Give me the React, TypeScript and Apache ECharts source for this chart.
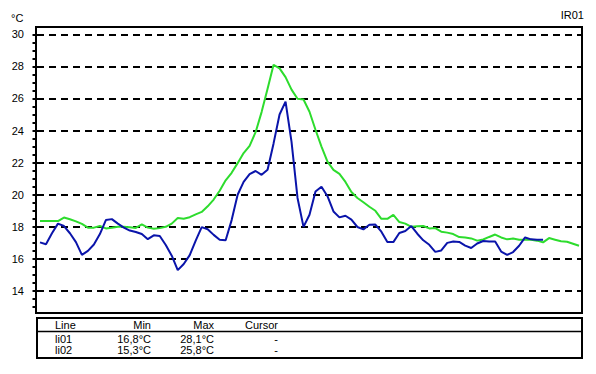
import React, { useEffect, useRef } from "react";
import * as echarts from "echarts";

// li01 (green) and li02 (blue) temperature samples, °C
const li01 = [
  18.36, 18.36, 18.36, 18.36, 18.58, 18.47, 18.34, 18.18, 17.95, 17.95,
  18.05, 17.9, 17.94, 18.0, 18.0, 17.98, 17.93, 18.15, 17.95, 17.88,
  17.92, 18.0, 18.2, 18.55, 18.5, 18.6, 18.78, 18.93, 19.28, 19.7,
  20.25, 20.9, 21.37, 21.97, 22.6, 23.05, 23.9, 25.15, 26.6, 28.1,
  27.88, 27.33, 26.55, 25.98, 25.94, 25.17, 24.05, 23.0, 22.06, 21.55,
  21.3, 20.8, 20.17, 19.8, 19.53, 19.25, 19.0, 18.5, 18.5, 18.75,
  18.3, 18.2, 18.0, 18.03, 18.05, 17.9, 17.92, 17.7, 17.64, 17.55,
  17.36, 17.34, 17.28, 17.14, 17.21, 17.37, 17.52, 17.34, 17.22, 17.27,
  17.2, 17.2, 17.19, 17.14, 17.03, 17.3, 17.2, 17.1, 17.07, 16.95,
  16.82,
];
const li02 = [
  17.03, 16.92, 17.6, 18.2, 18.05, 17.6, 17.05, 16.25, 16.5, 16.9,
  17.55, 18.42, 18.48, 18.2, 17.95, 17.77, 17.68, 17.55, 17.23, 17.47,
  17.43, 16.87, 16.2, 15.3, 15.68, 16.24, 17.14, 17.98, 17.85, 17.5,
  17.2, 17.16, 18.42, 20.0, 20.8, 21.28, 21.48, 21.24, 21.56, 23.2,
  25.0, 25.8, 23.3, 19.8, 18.0, 18.75, 20.2, 20.5, 19.91, 18.96,
  18.59, 18.69, 18.45, 17.99, 17.84, 18.13, 18.14, 17.7, 17.05, 17.05,
  17.62, 17.74, 18.05, 17.57, 17.16, 16.88, 16.44, 16.53, 17.0, 17.08,
  17.06, 16.83, 16.68, 16.96, 17.12, 17.08, 17.08, 16.46, 16.25, 16.43,
  16.82, 17.34, 17.22, 17.2, 17.2,
];

const majorTicks = [14, 16, 18, 20, 22, 24, 26, 28, 30];
const minorTicks = [
  13, 13.5, 14, 14.5, 15, 15.5, 16, 16.5, 17, 17.5, 18, 18.5, 19, 19.5,
  20, 20.5, 21, 21.5, 22, 22.5, 23, 23.5, 24, 24.5, 25, 25.5, 26, 26.5,
  27, 27.5, 28, 28.5, 29, 29.5, 30,
];
const tableHeader = ["Line", "Min", "Max", "Cursor"];
const tableRows = [
  ["li01", "16,8°C", "28,1°C", "-"],
  ["li02", "15,3°C", "25,8°C", "-"],
];
const unitLabel = "°C";
const chartName = "IR01";

const FONT = "'Liberation Sans', Arial, sans-serif";

export default function App() {
  const ref = useRef<HTMLDivElement>(null);
  useEffect(() => {
    const chart = echarts.init(ref.current!, null, { renderer: "svg" });

    const colX = [55, 151, 214, 278];
    const colAlign = ["left", "right", "right", "right"];
    const tableTexts: any[] = [];
    const txtStyle = (t: string, c: number) => ({
      text: t,
      fill: "#000",
      fontSize: 11,
      lineHeight: 10,
      fontFamily: FONT,
      textAlign: colAlign[c],
      textVerticalAlign: "middle",
    });
    tableHeader.forEach((t, c) => {
      tableTexts.push({ type: "text", x: colX[c], y: 325, style: txtStyle(t, c) });
    });
    tableRows.forEach((row, r) => {
      row.forEach((t, c) => {
        tableTexts.push({ type: "text", x: colX[c], y: 339 + r * 11, style: txtStyle(t, c) });
      });
    });

    chart.setOption({
      animation: false,
      backgroundColor: "#fff",
      grid: {
        left: 36,
        top: 27,
        width: 546,
        height: 286,
        show: true,
        borderColor: "#000",
        borderWidth: 2,
        backgroundColor: "transparent",
      },
      xAxis: {
        type: "value",
        min: -0.668,
        max: 90.5,
        show: false,
      },
      yAxis: [
        {
          type: "value",
          min: 12.63,
          max: 30.455,
          position: "left",
          axisLine: { show: false },
          axisTick: {
            show: true,
            customValues: majorTicks,
            length: 6,
            lineStyle: { color: "#000", width: 2 },
          },
          axisLabel: {
            customValues: majorTicks,
            margin: 12,
            fontSize: 11,
            fontFamily: FONT,
            color: "#000",
          },
          splitLine: {
            show: true,
            lineStyle: { color: "#000", width: 2, type: [7, 5], dashOffset: -1 },
          },
        },
        {
          type: "value",
          min: 12.63,
          max: 30.455,
          position: "left",
          axisLine: { show: false },
          axisTick: {
            show: true,
            customValues: minorTicks,
            length: 3.5,
            lineStyle: { color: "#000", width: 2 },
          },
          axisLabel: { show: false },
          splitLine: { show: false },
        },
      ],
      series: [
        {
          name: "li01",
          type: "line",
          data: li01.map((v, i) => [i, v]),
          showSymbol: false,
          lineStyle: { color: "#2ddc2d", width: 2 },
          itemStyle: { color: "#2ddc2d" },
        },
        {
          name: "li02",
          type: "line",
          data: li02.map((v, i) => [i, v]),
          showSymbol: false,
          lineStyle: { color: "#0a14aa", width: 2 },
          itemStyle: { color: "#0a14aa" },
        },
      ],
      graphic: [
        {
          type: "text",
          x: 11,
          y: 18,
          style: { text: unitLabel, fill: "#000", font: `11px ${FONT}`, textVerticalAlign: "middle" },
        },
        {
          type: "text",
          x: 584,
          y: 15,
          style: { text: chartName, fill: "#000", font: `11px ${FONT}`, textAlign: "right", textVerticalAlign: "middle" },
        },
        {
          type: "rect",
          shape: { x: 37, y: 318, width: 545, height: 40 },
          style: { fill: "none", stroke: "#000", lineWidth: 2 },
        },
        {
          type: "line",
          shape: { x1: 37, y1: 331.5, x2: 582, y2: 331.5 },
          style: { stroke: "#000", lineWidth: 1.5 },
        },
        ...tableTexts,
      ],
    });
    return () => chart.dispose();
  }, []);
  return (
    <div
      ref={ref}
      style={{ position: "fixed", left: 0, top: 0, width: 596, height: 374 }}
    />
  );
}
